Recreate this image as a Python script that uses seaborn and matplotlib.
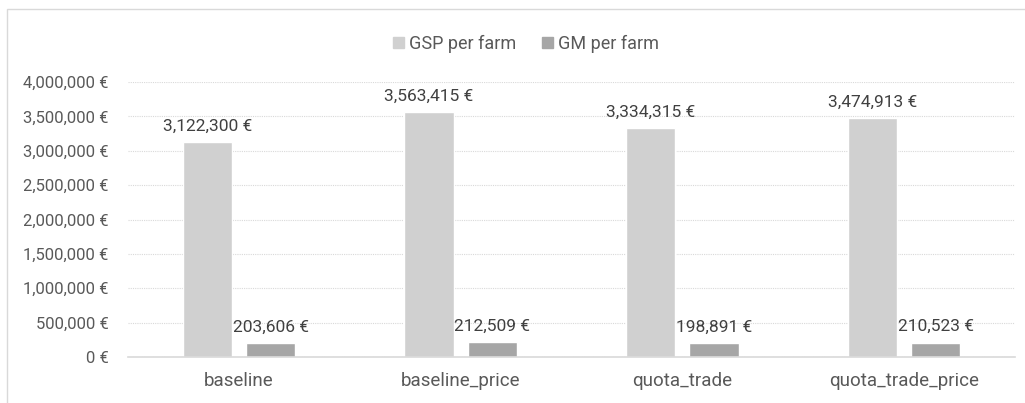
#!/usr/bin/env python3

import matplotlib

matplotlib.use("Agg")
import matplotlib.pyplot as plt
import matplotlib.patches as mpatches
import pandas
import seaborn as sns
from matplotlib.ticker import FuncFormatter, MultipleLocator

scenarios = ["baseline", "baseline_price", "quota_trade", "quota_trade_price"]
series = ["GSP per farm", "GM per farm"]
gsp_per_farm = [3122300, 3563415, 3334315, 3474913]
gm_per_farm = [203606, 212509, 198891, 210523]

colors = {"GSP per farm": "#d0d0d0", "GM per farm": "#a6a6a6"}
text_color = "#595959"
label_color = "#404040"


def euro(x, pos=None):
    return "{:,.0f} €".format(x)


def main():
    sns.set_theme(style="white")
    plt.rcParams["font.family"] = ["Roboto", "DejaVu Sans"]

    df = pandas.DataFrame(
        {
            "scenario": scenarios * 2,
            "series": [series[0]] * len(scenarios) + [series[1]] * len(scenarios),
            "value": gsp_per_farm + gm_per_farm,
        }
    )

    fig = plt.figure(figsize=(10.25, 4.03), dpi=100)
    ax = fig.add_axes([0.1249, 0.1141, 0.8654, 0.6824])

    # Chart frame like the spreadsheet chart area
    fig.patches.append(
        mpatches.Rectangle(
            (7 / 1025, -0.05), 1.1, 1 - 9 / 403 + 0.05,
            transform=fig.transFigure, fill=False,
            edgecolor="#d9d9d9", linewidth=1.0,
        )
    )

    sns.barplot(
        data=df, x="scenario", y="value", hue="series",
        palette=colors, width=0.57, gap=0.22, ax=ax,
        legend=False, saturation=1,
    )

    for container, vals in zip(ax.containers, [gsp_per_farm, gm_per_farm]):
        ax.bar_label(
            container, labels=[euro(v) for v in vals], padding=6,
            fontsize=12.5, color=label_color,
        )

    ax.set_ylim(0, 4000000)
    ax.yaxis.set_major_locator(MultipleLocator(500000))
    ax.yaxis.set_major_formatter(FuncFormatter(euro))
    ax.grid(axis="y", color="#d9d9d9", linestyle=(0, (1, 1)), linewidth=0.8)
    ax.set_axisbelow(True)
    for side in ["top", "right", "left"]:
        ax.spines[side].set_visible(False)
    ax.spines["bottom"].set_color("#d9d9d9")
    ax.spines["bottom"].set_linewidth(1.2)

    ax.set_xlabel("")
    ax.set_ylabel("")
    ax.tick_params(axis="y", length=0, pad=14, labelsize=12, labelcolor=text_color)
    ax.tick_params(axis="x", length=0, pad=11, labelsize=13.5, labelcolor=text_color)

    handles = [mpatches.Patch(color=colors[s], label=s) for s in series]
    fig.legend(
        handles=handles, loc="center", bbox_to_anchor=(526 / 1025, 1 - 44 / 403),
        ncol=2, frameon=False, fontsize=13, labelcolor=text_color,
        handlelength=0.6, handleheight=0.6, handletextpad=0.3, columnspacing=1.4,
    )

    fig.savefig("out.png", dpi=100)


if __name__ == "__main__":
    main()
